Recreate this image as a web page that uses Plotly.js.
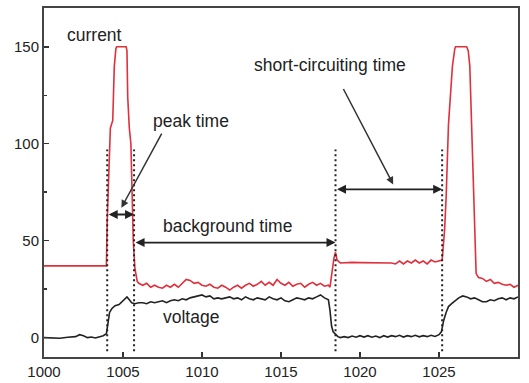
<!DOCTYPE html>
<html>
<head>
<meta charset="utf-8">
<script src="https://cdn.plot.ly/plotly-3.0.1.min.js"></script>
<style>html,body{margin:0;padding:0;background:#fff;}#chart{width:529px;height:383px;}</style>
</head>
<body>
<div id="chart"></div>
<script>
// Current (red) trace
const currentTime = [1000,1003.95,1004.0,1004.1,1004.2,1004.35,1004.45,1004.55,1004.6,1005.2,1005.25,1005.3,1005.4,1005.5,1005.6,1005.65,1005.75,1005.9,
  1006.0,1006.25,1006.5,1006.75,1007.0,1007.25,1007.5,1007.75,1008.0,1008.25,1008.5,1008.75,1009.0,1009.25,1009.5,1009.75,
  1010.0,1010.25,1010.5,1010.75,1011.0,1011.25,1011.5,1011.75,1012.0,1012.25,1012.5,1012.75,1013.0,1013.25,1013.5,1013.75,
  1014.0,1014.25,1014.5,1014.75,1015.0,1015.25,1015.5,1015.75,1016.0,1016.25,1016.5,1016.75,1017.0,1017.25,1017.5,1017.75,
  1018.0,1018.1,1018.2,1018.35,1018.45,1018.55,1018.75,1019.0,1019.5,1020.0,1020.5,1021.0,1021.5,1022.0,1022.25,1022.5,1022.75,
  1023.0,1023.25,1023.5,1023.75,1024.0,1024.25,1024.5,1024.75,1025.0,1025.2,1025.35,1025.45,1025.6,1025.7,1025.85,1026.0,1026.05,
  1026.75,1026.85,1026.95,1027.05,1027.15,1027.25,1027.35,1027.5,1027.75,1028.0,1028.25,1028.5,1028.75,1029.0,1029.25,1029.5,1029.75,1030.0];
const currentValue = [37,37,60,85,108,112,140,149,150,150,148,124,108,100,62,50,36,29,
  28,27,28,26,27,26,25.5,27,26,27.5,26,28,30,29.5,28,28.5,
  27,26.5,27.5,26,25.5,27,26,24.5,26,27,25.5,27,28,26.5,27.5,29,
  27,28.5,27,30,28,27,28.5,26.5,27.5,28,26,27.5,28.5,27,28,26.5,
  27,26,33,41,44,40,38.5,38.7,38.8,38.7,38.6,38.8,38.7,38.5,38,39.5,38,
  39.5,38.5,40,38.5,39.5,38,40,39,39.5,40,55,72,110,124,140,149,150,
  150,148,140,110,85,50,33,31,30.5,29,30,28,28.5,27.5,27,27.5,26,27];

// Voltage (black) trace
const voltageTime = [1000,1000.5,1001,1001.5,1002,1002.25,1002.5,1002.75,1003,1003.25,1003.5,1003.75,1003.95,1004.05,1004.15,1004.3,1004.5,1004.75,
  1005.0,1005.25,1005.4,1005.55,1005.75,1006.0,1006.25,1006.5,1006.75,1007,1007.25,1007.5,1007.75,1008,1008.25,1008.5,1008.75,
  1009,1009.25,1009.5,1009.75,1010,1010.25,1010.5,1010.75,1011,1011.25,1011.5,1011.75,1012,1012.25,1012.5,1012.75,
  1013,1013.25,1013.5,1013.75,1014,1014.25,1014.5,1014.75,1015,1015.25,1015.5,1015.75,1016,1016.25,1016.5,1016.75,
  1017,1017.25,1017.5,1017.75,1018,1018.1,1018.2,1018.3,1018.45,1018.6,1018.75,1019,1019.25,1019.5,1019.75,
  1020,1020.25,1020.5,1020.75,1021,1021.25,1021.5,1021.75,1022,1022.25,1022.5,1022.75,1023,1023.25,1023.5,1023.75,
  1024,1024.25,1024.5,1024.75,1025,1025.15,1025.3,1025.45,1025.6,1025.8,1026,1026.25,1026.5,1026.75,
  1027,1027.25,1027.5,1027.75,1028,1028.25,1028.5,1028.75,1029,1029.25,1029.5,1029.75,1030];
const voltageValue = [0,0,-0.3,0.2,0.5,1.5,1,0,0.3,-0.2,0.5,1,2,8,13,15,16.5,17,
  19,21,19.5,18,17.5,18,18,17.5,18.5,18,18.5,19,18,19,19.5,19,20,
  19.5,20.5,21,21.5,22,21,21.5,20,20.5,20,20.5,21,20,20.5,19.5,21,
  20,19.5,20.5,20,19.5,21,20,19.5,20.5,19,18.5,19.5,20.5,20,19.5,20.5,
  20,21,22,20.5,19.5,14,6,3,1.5,0.5,0,0.5,0,0.8,0.2,
  1,0.3,1,0.2,0.8,0,1,0.3,1,0.5,1.2,0.3,1,0.5,1.2,0.4,
  1,0.5,1.2,0.6,1.5,3,9,13,16,17.5,19,20.5,21.5,21,
  20,20.5,19.5,18.5,18.5,19.5,19,20,20.5,19.5,20.5,20,21];

// Phase boundaries (dotted verticals)
const boundaryTimes = [1004.0, 1005.7, 1018.45, 1025.2];
const boundaryRange = [-7, 97];

// Interval arrows: [start, end, level]
const intervalArrows = [[1004.0, 1005.7, 63.5], [1005.7, 1018.45, 49], [1018.45, 1025.2, 76.5]];
// Pointer arrows: [fromX, fromY, toX, toY]
const pointerArrows = [[1007.5, 106, 1004.9, 67], [1018.9, 129, 1022.1, 79]];
// Labels
const labelTexts = ["current", "peak time", "background time", "short-circuiting time", "voltage"];
const labelX = [1003.2, 1009.3, 1011.6, 1018.1, 1009.3];
const labelY = [156, 111.5, 57.5, 140.5, 10.5];

const xTicks = [1000, 1005, 1010, 1015, 1020, 1025, 1030];
const yTicks = [0, 50, 100, 150];

const font = '"Liberation Sans", Arial, sans-serif';
const textColor = '#222';

const traces = [
  {x: currentTime, y: currentValue, type: 'scatter', mode: 'lines', line: {color: '#e0303c', width: 1.6}, hoverinfo: 'skip'},
  {x: voltageTime, y: voltageValue, type: 'scatter', mode: 'lines', line: {color: '#222', width: 1.6}, hoverinfo: 'skip'}
];

const shapes = boundaryTimes.map(t => ({
  type: 'line', xref: 'x', yref: 'y', x0: t, x1: t, y0: boundaryRange[0], y1: boundaryRange[1],
  line: {color: '#222', width: 2, dash: '2px,3px'}
}));

const annotations = [];
intervalArrows.forEach(a => {
  annotations.push({x: a[1], y: a[2], ax: a[0], ay: a[2], xref: 'x', yref: 'y', axref: 'x', ayref: 'y',
    text: '', showarrow: true, arrowhead: 2, arrowside: 'end+start', arrowsize: 1, arrowwidth: 1.8, arrowcolor: '#222', standoff: 0, startstandoff: 0});
});
pointerArrows.forEach(a => {
  annotations.push({x: a[2], y: a[3], ax: a[0], ay: a[1], xref: 'x', yref: 'y', axref: 'x', ayref: 'y',
    text: '', showarrow: true, arrowhead: 2, arrowsize: 1, arrowwidth: 1.5, arrowcolor: '#333', standoff: 0});
});
labelTexts.forEach((t, i) => {
  annotations.push({x: labelX[i], y: labelY[i], xref: 'x', yref: 'y', text: t, showarrow: false,
    font: {family: font, size: 17.5, color: textColor}, xanchor: 'center', yanchor: 'middle'});
});

const layout = {
  width: 529, height: 383,
  margin: {l: 44, r: 11, t: 8, b: 26},
  paper_bgcolor: '#fff', plot_bgcolor: '#fff',
  showlegend: false,
  font: {family: font, size: 15, color: textColor},
  xaxis: {range: [1000, 1030], tickvals: xTicks, ticktext: xTicks.map(String), ticks: 'inside', ticklen: 5, tickwidth: 1.5, tickcolor: '#333',
    showgrid: false, zeroline: false, showline: true, linecolor: '#444', linewidth: 2, mirror: true,
    tickfont: {family: font, size: 15, color: textColor}},
  yaxis: {range: [-10, 170], tickvals: yTicks, ticktext: yTicks.map(String), ticks: 'inside', ticklen: 5, tickwidth: 1.5, tickcolor: '#333',
    minor: {tickvals: [25, 75, 125], ticks: 'inside', ticklen: 3, tickcolor: '#333'},
    showgrid: false, zeroline: false, showline: true, linecolor: '#444', linewidth: 2, mirror: true,
    tickfont: {family: font, size: 15, color: textColor}},
  shapes: shapes,
  annotations: annotations
};

Plotly.newPlot('chart', traces, layout, {displayModeBar: false, staticPlot: true});
</script>
</body>
</html>
